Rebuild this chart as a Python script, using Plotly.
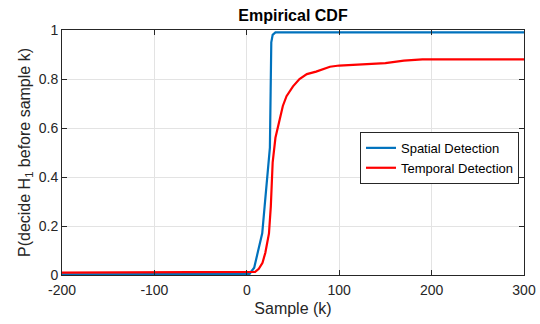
import plotly.graph_objects as go

# Spatial detection ECDF (sample, probability)
spatial_k = [-200, -100, 0, 3, 8, 12, 16.7, 19.3, 22, 24, 25, 25.8, 26.5, 28, 31, 40, 100, 200, 300]
spatial_p = [0.003, 0.003, 0.003, 0.005, 0.03, 0.09, 0.17, 0.28, 0.38, 0.47, 0.52, 0.75, 0.95, 0.98, 0.99, 0.99, 0.99, 0.99, 0.99]

# Temporal detection ECDF
temporal_k = [-200, -70, -69, 0, 9, 13, 17, 20, 22, 24, 26, 28, 31, 35, 39, 43, 50, 57, 65, 75, 90, 100, 130, 150, 170, 190, 250, 300]
temporal_p = [0.01, 0.01, 0.012, 0.012, 0.013, 0.025, 0.05, 0.09, 0.13, 0.17, 0.28, 0.46, 0.56, 0.63, 0.69, 0.73, 0.77, 0.80, 0.82, 0.83, 0.85, 0.855, 0.86, 0.865, 0.875, 0.88, 0.88, 0.88]

x_ticks = [-200, -100, 0, 100, 200, 300]
x_tick_labels = ["-200", "-100", "0", "100", "200", "300"]
y_ticks = [0, 0.2, 0.4, 0.6, 0.8, 1]
y_tick_labels = ["0", "0.2", "0.4", "0.6", "0.8", "1"]

FONT = "Liberation Sans, Arial, Helvetica"

fig = go.Figure()
fig.add_trace(go.Scatter(x=spatial_k, y=spatial_p, mode="lines", name="Spatial Detection",
                         line=dict(color="#0072BD", width=2.2)))
fig.add_trace(go.Scatter(x=temporal_k, y=temporal_p, mode="lines", name="Temporal Detection",
                         line=dict(color="#FF0000", width=2.2)))

axis_common = dict(showline=True, linecolor="#262626", linewidth=1, mirror="ticks",
                   ticks="inside", ticklen=5, tickcolor="#262626",
                   showgrid=True, gridcolor="#E3E3E3", gridwidth=1, zeroline=False,
                   automargin=False,
                   tickfont=dict(family=FONT, size=14, color="#262626"))

fig.update_layout(
    width=540, height=324,
    margin=dict(l=62, r=16, t=30, b=49),
    paper_bgcolor="white", plot_bgcolor="white",
    title=dict(text="<b>Empirical CDF</b>", x=0.5 * (62 + 524) / 540, xanchor="center",
               y=1 - 15 / 324, yanchor="middle",
               font=dict(family=FONT, size=16, color="black")),
    xaxis=dict(range=[-200, 300], tickvals=x_ticks, ticktext=x_tick_labels,
               ticklabelstandoff=2,
               title=dict(text="Sample (k)", standoff=6,
                          font=dict(family=FONT, size=16, color="#262626")),
               **axis_common),
    yaxis=dict(range=[0, 1], tickvals=y_ticks, ticktext=y_tick_labels,
               title=dict(text="P(decide H<sub>1</sub> before sample k)", standoff=4,
                          font=dict(family=FONT, size=16, color="#262626")),
               **axis_common),
    legend=dict(x=0.645, y=0.584, xanchor="left", yanchor="top",
                bgcolor="white", bordercolor="#262626", borderwidth=1,
                font=dict(family=FONT, size=13, color="black"),
                tracegroupgap=0, itemwidth=30),
    showlegend=True,
)

fig.write_html("out.html")
